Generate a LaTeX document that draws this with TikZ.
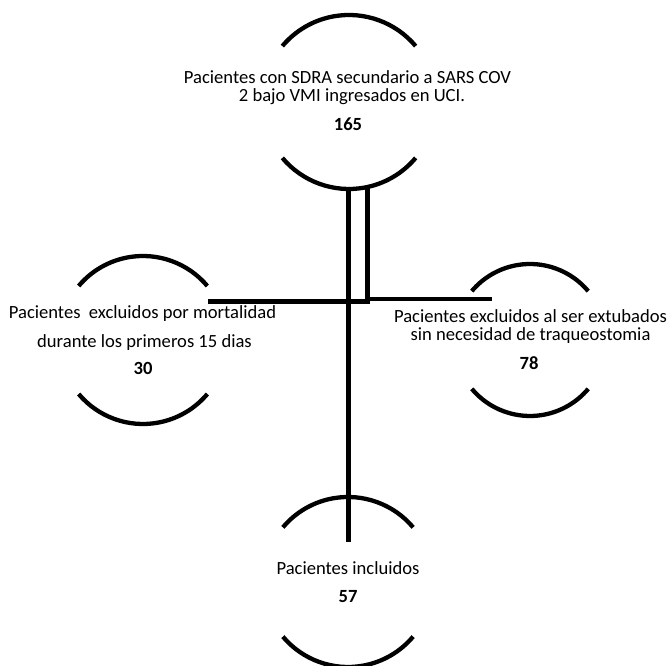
\documentclass[tikz,border=0pt]{standalone}
\usepackage{fontspec}
\setmainfont{Carlito}
\begin{document}
\begin{tikzpicture}[x=1pt,y=1pt,
  lbl/.style={anchor=base,inner sep=0pt,font=\fontsize{18.6}{20}\selectfont},
  num/.style={lbl,font=\fontsize{18.6}{20}\selectfont\bfseries},
  bracket/.style={line width=4.3pt},
  conn/.style={line width=5pt}]
\useasboundingbox (0,0) rectangle (670,666);
% circle centres
\coordinate (ctop) at (349,564);
\coordinate (cleft) at (143,326);
\coordinate (cright) at (530,326);
\coordinate (cbot) at (348,84);
% bracket arcs
\draw[bracket] (ctop) ++(40:87) arc[start angle=40,end angle=140,radius=87];
\draw[bracket] (ctop) ++(220:87) arc[start angle=220,end angle=320,radius=87];
\draw[bracket] (cleft) ++(40:84) arc[start angle=40,end angle=140,radius=84];
\draw[bracket] (cleft) ++(220:84) arc[start angle=220,end angle=320,radius=84];
\draw[bracket] (cright) ++(40:76) arc[start angle=40,end angle=140,radius=76];
\draw[bracket] (cright) ++(220:76) arc[start angle=220,end angle=320,radius=76];
\draw[bracket] (cbot) ++(40:85) arc[start angle=40,end angle=140,radius=85];
\draw[bracket] (cbot) ++(220:85) arc[start angle=220,end angle=320,radius=85];
% texts
\node[lbl] (t1) at (347.5,582) {Pacientes con SDRA secundario a SARS COV};
\node[lbl] (t2) at (352,564.3) {2 bajo VMI ingresados en UCI.};
\node[num] (t3) at (348,535.3) {165};
\node[lbl] (l1) at (142.5,347.7) {Pacientes\ \ excluidos por mortalidad};
\node[lbl] (l2) at (144.5,318) {durante los primeros 15 dias};
\node[num] (l3) at (143,291) {30};
\node[lbl] (r1) at (530.5,343) {Pacientes excluidos al ser extubados};
\node[lbl] (r2) at (530.5,325) {sin necesidad de traqueostomia};
\node[num] (r3) at (529,296) {78};
\node[lbl] (b1) at (348,91) {Pacientes incluidos};
\node[num] (b2) at (348,63) {57};
% connectors
\coordinate (vtop) at (348.5,479);
\coordinate (vbot) at (348.5,124);
\coordinate (v2top) at (367,479);
\coordinate (v2bot) at (367,362);
\coordinate (hleft) at (208,364);
\coordinate (hjoin) at (367,364);
\coordinate (hrjoin) at (367,367);
\coordinate (hright) at (492,367);
\draw[conn] (vtop) -- (vbot);
\draw[conn] (v2top) -- (v2bot);
\draw[conn] (hleft) -- (hjoin);
\draw[conn,line width=4.3pt] (hrjoin) -- (hright);
\end{tikzpicture}
\end{document}
